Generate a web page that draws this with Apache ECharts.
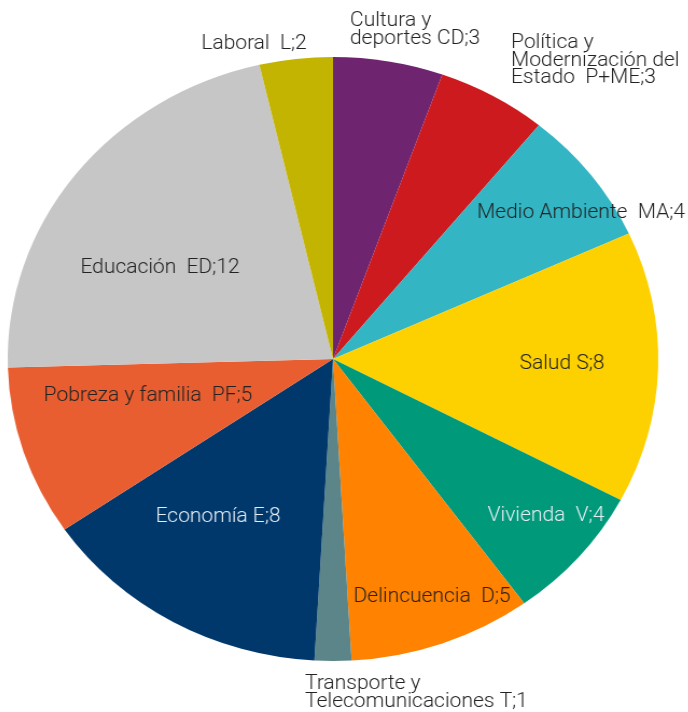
<!DOCTYPE html>
<html>
<head>
<meta charset="utf-8">
<script src="https://cdn.jsdelivr.net/npm/echarts@6/dist/echarts.min.js"></script>
<style>
  html, body { margin: 0; padding: 0; background: #fff; }
  #wrap { position: relative; width: 688px; height: 712px; overflow: hidden; }
  #chart { position: absolute; left: 0; top: 0; width: 688px; height: 712px; transform: scaleX(1.077); transform-origin: 333px 0; }
</style>
</head>
<body>
<div id="wrap">
  <div id="chart"></div>
</div>
<script>
const categories = [
  'Cultura y\ndeportes CD',
  'Política y\nModernización del\nEstado  P+ME',
  'Medio Ambiente  MA',
  'Salud S',
  'Vivienda  V',
  'Delincuencia  D',
  'Transporte y\nTelecomunicaciones T',
  'Economía E',
  'Pobreza y familia  PF',
  'Educación  ED',
  'Laboral  L'
];
const values = [3, 3, 4, 8, 4, 5, 1, 8, 5, 12, 2];
const colors = ['#6f2470', '#cc1a1f', '#33b5c4', '#fdd000', '#00997a', '#ff8200', '#5b8589', '#00386c', '#e85e30', '#c6c6c6', '#c2b400'];
const labelColors = ['#222', '#222', '#222', '#222', '#e6eef5', '#222', '#222', '#e6eef5', '#222', '#222', '#222'];

const SX = 1.077, OX = 333;
// label anchor placement in page pixels (x, y, align)
const labelPos = [
  [350, 30, 'left'],
  [511, 61, 'left'],
  [581, 213, 'center'],
  [562, 364, 'center'],
  [546, 516, 'center'],
  [432, 597, 'center'],
  [305, 693, 'left'],
  [218, 517, 'center'],
  [148, 396, 'center'],
  [160, 268, 'center'],
  [254, 44, 'center']
];
const toPre = x => OX + (x - OX) / SX;

const chart = echarts.init(document.getElementById('chart'), null, { renderer: 'canvas' });
chart.setOption({
  animation: false,
  series: [{
    type: 'pie',
    silent: true,
    center: [333, 359],
    radius: 302,
    startAngle: 90,
    clockwise: true,
    itemStyle: { borderWidth: 0 },
    emphasis: { disabled: true },
    labelLine: { show: false },
    label: {
      show: true,
      position: 'inside',
      fontFamily: 'Roboto',
      fontWeight: 300,
      fontSize: 19.5,
      lineHeight: 17.5,
      formatter: p => p.name + ';' + p.value,
      color: '#222'
    },
    labelLayout: function (params) {
      const p = labelPos[params.dataIndex];
      return { x: toPre(p[0]), y: p[1], align: p[2], verticalAlign: 'middle' };
    },
    data: categories.map((c, i) => ({
      name: c,
      value: values[i],
      itemStyle: { color: colors[i] },
      label: { color: labelColors[i], align: labelPos[i][2] }
    }))
  }]
});
</script>
</body>
</html>
